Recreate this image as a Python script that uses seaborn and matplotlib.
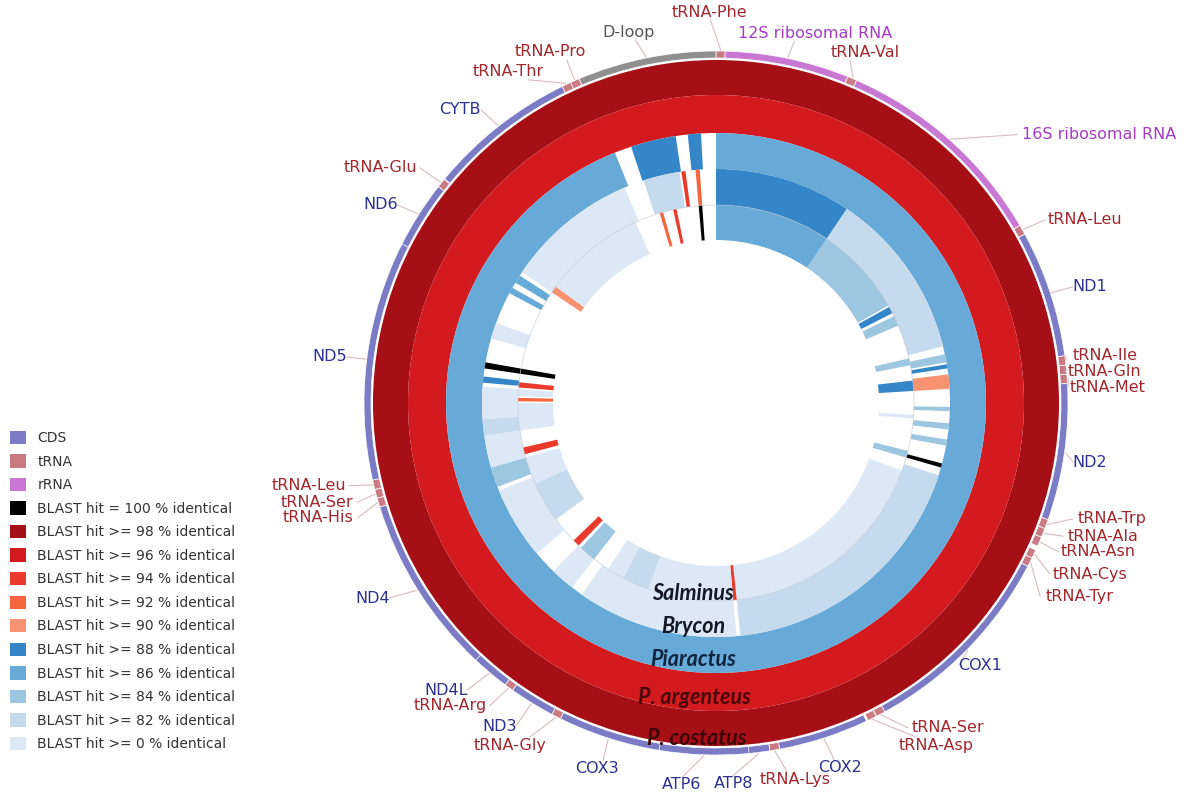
import numpy as np
import matplotlib
matplotlib.use("Agg")
import matplotlib.pyplot as plt
from matplotlib.patches import Patch
import seaborn as sns

sns.set_theme(style="white")
plt.rcParams["font.family"] = ["DejaVu Sans"]

GENOME_LENGTH = 16700

# ---- annotated features of the mitogenome (bp) ----
feature_names = [
    "tRNA-Phe", "12S ribosomal RNA", "tRNA-Val", "16S ribosomal RNA", "tRNA-Leu",
    "ND1", "tRNA-Ile", "tRNA-Gln", "tRNA-Met", "ND2", "tRNA-Trp", "tRNA-Ala",
    "tRNA-Asn", "tRNA-Cys", "tRNA-Tyr", "COX1", "tRNA-Ser", "tRNA-Asp", "COX2",
    "tRNA-Lys", "ATP8", "ATP6", "COX3", "tRNA-Gly", "ND3", "tRNA-Arg", "ND4L",
    "ND4", "tRNA-His", "tRNA-Ser", "tRNA-Leu", "ND5", "ND6", "tRNA-Glu", "CYTB",
    "tRNA-Thr", "tRNA-Pro", "D-loop",
]
feature_starts = [
    1, 70, 1021, 1093, 2771, 2846, 3818, 3889, 3959, 4029, 5074, 5146, 5216,
    5322, 5389, 5460, 7021, 7095, 7177, 7868, 7943, 8101, 8783, 9568, 9640,
    9989, 10058, 10348, 11729, 11798, 11866, 11939, 13771, 14287, 14361,
    15499, 15570, 15640,
]
feature_ends = [
    69, 1020, 1092, 2770, 2845, 3817, 3889, 3959, 4028, 5074, 5144, 5214, 5288,
    5388, 5458, 7020, 7091, 7163, 7867, 7941, 8110, 8783, 9567, 9639, 9988,
    10057, 10354, 11728, 11797, 11864, 11938, 13774, 14286, 14355, 15498,
    15570, 15639, 16700,
]
feature_types = [
    "tRNA", "rRNA", "tRNA", "rRNA", "tRNA", "CDS", "tRNA", "tRNA", "tRNA", "CDS",
    "tRNA", "tRNA", "tRNA", "tRNA", "tRNA", "CDS", "tRNA", "tRNA", "CDS", "tRNA",
    "CDS", "CDS", "CDS", "tRNA", "CDS", "tRNA", "CDS", "CDS", "tRNA", "tRNA",
    "tRNA", "CDS", "CDS", "tRNA", "CDS", "tRNA", "tRNA", "D-loop",
]

# ---- BLAST hits per genome ring: start, end (bp), identity class (%) ----
costatus_starts = [1]
costatus_ends = [16700]
costatus_ident = [98]

argenteus_starts = [1]
argenteus_ends = [16700]
argenteus_ident = [96]

piaractus_starts = [1, 15851, 16422]
piaractus_ends = [15680, 16301, 16552]
piaractus_ident = [86, 88, 88]

brycon_starts = [1, 1577, 3618, 3734, 3850, 4221, 4407, 4593, 4871, 5010, 8118,
                 10113, 10670, 11551, 11783, 12154, 12340, 12757, 12920, 13268,
                 13824, 13963, 14103, 15865, 16306, 16468]
brycon_ends = [1577, 3526, 3711, 3781, 4013, 4268, 4477, 4662, 4917, 8072, 9974,
               10391, 11505, 11783, 12154, 12340, 12711, 12827, 12989, 13453,
               13894, 14056, 15633, 16283, 16352, 16515]
brycon_ident = [88, 82, 84, 88, 90, 84, 84, 84, 100, 82, 0,
                0, 0, 84, 0, 82, 0, 88, 100, 0,
                86, 86, 0, 82, 94, 92]

salminus_starts = [1, 1577, 2830, 2969, 3572, 3874, 4337, 4825, 5103, 8072, 8118,
                   9278, 9649, 10113, 10391, 10855, 11412, 11829, 12154, 12548,
                   12618, 12734, 12920, 14103, 14195, 15935, 16121, 16468]
salminus_ends = [1577, 2807, 2923, 3108, 3665, 4013, 4384, 4917, 8072, 8118, 9278,
                 9649, 9881, 10345, 10484, 11412, 11783, 11922, 12525, 12595,
                 12711, 12804, 12989, 14195, 15587, 15981, 16167, 16515]
salminus_ident = [86, 84, 88, 84, 84, 88, 0, 84, 0, 94, 0,
                  82, 0, 84, 94, 82, 0, 94, 0, 92,
                  0, 94, 100, 90, 0, 92, 94, 100]

ring_names = ["Salminus", "Brycon", "Piaractus", "P. argenteus", "P. costatus"]

# ---- colours ----
type_colors = {"CDS": "#7B7BC6", "tRNA": "#C97A82", "rRNA": "#C877D3", "D-loop": "#8F8F8F"}
type_text_colors = {"CDS": "#2C318F", "tRNA": "#A1282C", "rRNA": "#A43CC4", "D-loop": "#555555"}
ident_levels = [100, 98, 96, 94, 92, 90, 88, 86, 84, 82, 0]
ident_colors = dict(zip(ident_levels, [
    "#000000", "#A50F15", "#D21A1F", "#EA3A2C", "#F7653F", "#F89270",
    "#3586C8", "#67AAD8", "#9DC6E1", "#C6DAEE", "#DCE8F5",
]))

# ring radii in axis units (axis radius = 352)
ring_radii = {
    "Salminus": (163, 198), "Brycon": (198, 234), "Piaractus": (234, 270),
    "P. argenteus": (270, 308), "P. costatus": (308, 343),
}
FEATURE_RING = (345, 352)

# label placement for each feature: (angle in degrees clockwise from top, radius)
label_layout = [
    (359.1, 391), (15, 383), (23, 381), (55, 468), (63.6, 412), (72.7, 391),
    (83, 392), (85.3, 390), (87.7, 392), (99, 378), (106.3, 413), (109, 409),
    (111.3, 410), (114.6, 411), (118, 412), (134.8, 372), (144.5, 399),
    (147.2, 407), (161.2, 385), (168.2, 385), (177.3, 381), (185.2, 383),
    (198, 384), (211, 399), (213.8, 389), (221.3, 403), (223.2, 394),
    (240.4, 395), (253.9, 414), (256, 411), (258.5, 415), (276.8, 389),
    (300.6, 389), (305, 410), (318.9, 389), (327.9, 391), (334.8, 388),
    (346.8, 381),
]
# species label placement (angle, radius)
ring_label_layout = {
    "Salminus": (186.9, 192), "Brycon": (185.9, 225), "Piaractus": (185.1, 258),
    "P. argenteus": (184.1, 295), "P. costatus": (183.2, 336),
}
ring_label_colors = {
    "Salminus": "#141826", "Brycon": "#141826", "Piaractus": "#0E2542",
    "P. argenteus": "#4A0608", "P. costatus": "#3E0406",
}


def bp2rad(bp):
    return 2 * np.pi * np.asarray(bp, dtype=float) / GENOME_LENGTH


fig = plt.figure(figsize=(11.84, 7.96), dpi=100)
W, H = 1184, 796
cx, cy, R = 716, 403, 352
ax = fig.add_axes([(cx - R) / W, (H - cy - R) / H, 2 * R / W, 2 * R / H], projection="polar")
ax.set_theta_zero_location("N")
ax.set_theta_direction(-1)
ax.set_ylim(0, R)
ax.axis("off")

# BLAST rings
ring_data = {
    "P. costatus": (costatus_starts, costatus_ends, costatus_ident),
    "P. argenteus": (argenteus_starts, argenteus_ends, argenteus_ident),
    "Piaractus": (piaractus_starts, piaractus_ends, piaractus_ident),
    "Brycon": (brycon_starts, brycon_ends, brycon_ident),
    "Salminus": (salminus_starts, salminus_ends, salminus_ident),
}
for name, (s, e, idn) in ring_data.items():
    r0, r1 = ring_radii[name]
    s = np.asarray(s) - 1
    e = np.asarray(e)
    ax.bar(bp2rad(s), r1 - r0, width=bp2rad(e - s), bottom=r0, align="edge",
           color=[ident_colors[i] for i in idn], edgecolor="none", linewidth=0)

# faint ring separator between the two innermost genomes
tt = np.linspace(0, 2 * np.pi, 720)
ax.plot(tt, np.full_like(tt, 198), color="#B8C4D0", lw=0.6, alpha=0.6)

# feature ring
fs = np.asarray(feature_starts) - 1
fe = np.asarray(feature_ends)
ax.bar(bp2rad(fs), FEATURE_RING[1] - FEATURE_RING[0], width=bp2rad(fe - fs),
       bottom=FEATURE_RING[0], align="edge",
       color=[type_colors[t] for t in feature_types], edgecolor="white", linewidth=0.5)

# feature labels with leader lines
for name, s0, e0, t, (ldeg, lr) in zip(feature_names, feature_starts, feature_ends,
                                       feature_types, label_layout):
    mid = bp2rad((s0 + e0) / 2)
    lth = np.deg2rad(ldeg)
    x, y = lr * np.sin(lth), lr * np.cos(lth)
    half_w = 4.7 * len(name)
    if abs(np.sin(lth)) > 0.55:
        ex, ey = x - np.sign(x) * (half_w + 2), y
    else:
        ex, ey = x - np.sign(x) * half_w * abs(np.sin(lth)), y - np.sign(y) * 8
    er = np.hypot(ex, ey)
    eth = np.arctan2(ex, ey)
    ax.plot([mid, eth], [FEATURE_RING[1] + 1, er], color="#D8BCBC", lw=0.8,
            clip_on=False, zorder=1)
    ax.text(lth, lr, name, ha="center", va="center", fontsize=11.5,
            color=type_text_colors[t], clip_on=False)

# species labels
for name in ring_names:
    deg, r = ring_label_layout[name]
    ax.text(np.deg2rad(deg), r, name, ha="center", va="center", fontsize=15.5,
            fontfamily="Lato", fontstyle="italic", fontweight="bold",
            color=ring_label_colors[name])

# legend
legend_labels = ["CDS", "tRNA", "rRNA", "BLAST hit = 100 % identical"] + [
    f"BLAST hit >= {lvl} % identical" for lvl in ident_levels[1:]
]
legend_colors = [type_colors["CDS"], type_colors["tRNA"], type_colors["rRNA"]] + [
    ident_colors[l] for l in ident_levels
]
handles = [Patch(facecolor=c, edgecolor="none") for c in legend_colors]
fig.legend(handles, legend_labels, loc="upper left", bbox_to_anchor=(0.004, 0.466),
           frameon=False, fontsize=10, handlelength=1.1, handleheight=1.1,
           handletextpad=0.85, labelspacing=0.66, borderaxespad=0.0,
           labelcolor="#333333")

fig.savefig("out.png", dpi=100, facecolor="white")
